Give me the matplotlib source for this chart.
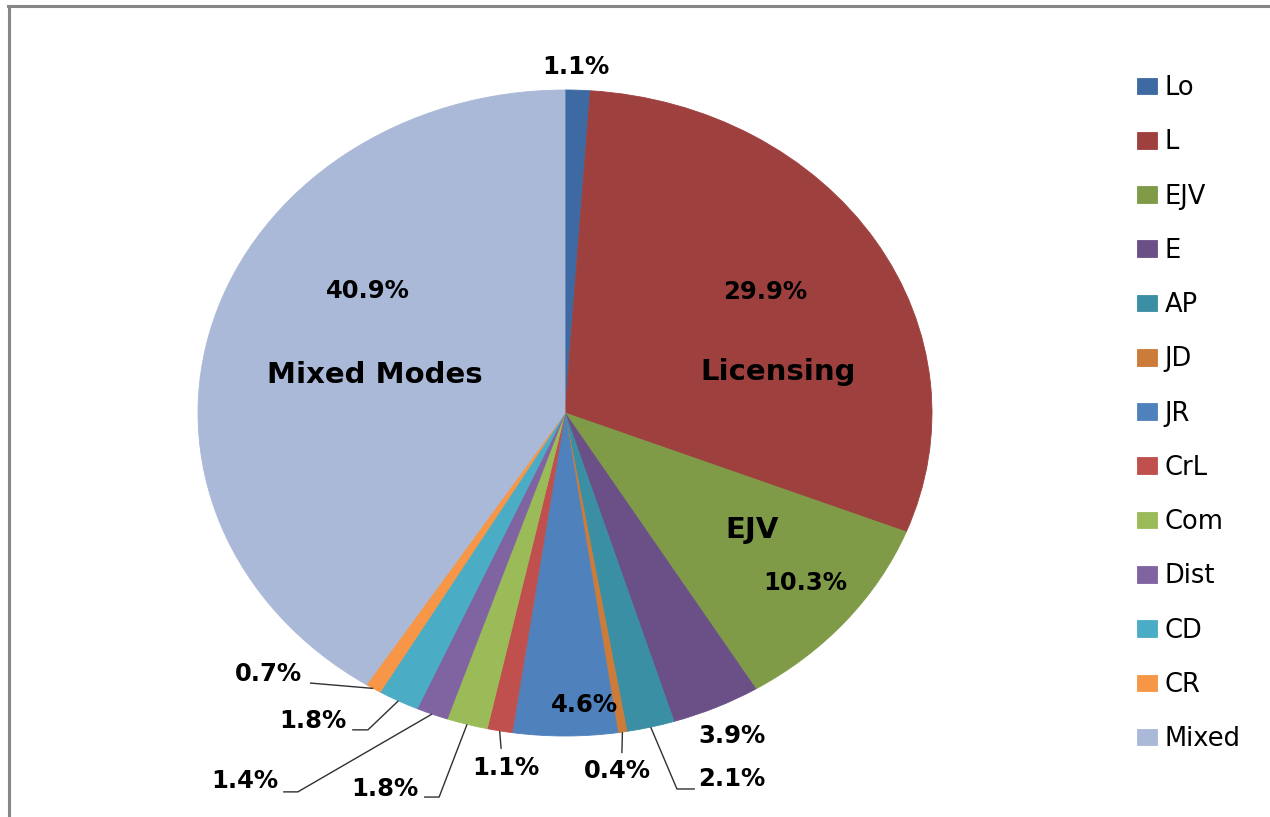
import numpy as np
import matplotlib
matplotlib.use("Agg")
import matplotlib.pyplot as plt
from matplotlib.lines import Line2D

# dados do gráfico (fatias em %)
nomes = ["Lo", "L", "EJV", "E", "AP", "JD", "JR", "CrL", "Com", "Dist", "CD", "CR", "Mixed"]
valores = [1.1, 29.9, 10.3, 3.9, 2.1, 0.4, 4.6, 1.1, 1.8, 1.4, 1.8, 0.7, 40.9]
cores = ["#3E6AA3", "#9E413E", "#7F9B48", "#6A5087", "#3A8FA5", "#CC7B38", "#4F81BD",
         "#C0504D", "#9BBB59", "#8064A2", "#4BACC6", "#F79646", "#AAB9D7"]

# rótulos de nome dentro das fatias grandes
nomes_internos = {"L": "Licensing", "EJV": "EJV", "Mixed": "Mixed Modes"}

# posição dos rótulos (x, y em coordenadas do pie, raio = 1)
pos_pct = {
    "Lo": (0.030, 1.071), "L": (0.545, 0.375), "EJV": (0.654, -0.526), "E": (0.455, -1.0),
    "AP": (0.455, -1.133), "JD": (0.144, -1.108), "JR": (0.054, -0.904), "CrL": (-0.161, -1.099),
    "Com": (-0.490, -1.164), "Dist": (-0.872, -1.139), "CD": (-0.687, -0.954),
    "CR": (-0.807, -0.808), "Mixed": (-0.536, 0.378),
}
pos_nome = {"L": (0.580, 0.128), "EJV": (0.510, -0.362), "Mixed": (-0.518, 0.118)}

# linhas de chamada: pontos depois da borda da fatia
chamadas = {
    "AP": [(0.305, -1.164), (0.354, -1.164)],
    "JD": [(0.155, -1.053)],
    "CrL": [(-0.174, -1.040)],
    "Com": [(-0.343, -1.189), (-0.384, -1.189)],
    "Dist": [(-0.728, -1.173), (-0.768, -1.173)],
    "CD": [(-0.537, -0.981), (-0.580, -0.981)],
    "CR": [(-0.695, -0.836)],
}

W, H = 1270, 817
fig = plt.figure(figsize=(W / 100, H / 100), dpi=100)

# eixo posicionado para o pie ficar elíptico como no original
cx, cy, rx, ry = 565, 413, 367, 323
ax = fig.add_axes([(cx - 1.25 * rx) / W, (H - cy - 1.25 * ry) / H, 2.5 * rx / W, 2.5 * ry / H])

fatias, _ = ax.pie(valores, colors=cores, startangle=90, counterclock=False,
                   wedgeprops=dict(linewidth=0.6))
for f, c in zip(fatias, cores):
    f.set_edgecolor(c)
ax.set_aspect("auto")
ax.set_xlim(-1.25, 1.25)
ax.set_ylim(-1.25, 1.25)
ax.axis("off")

fonte_pct = dict(fontsize=17.5, fontweight="bold", family="DejaVu Sans", color="black")

inicio = 0.0
for nome, v in zip(nomes, valores):
    meio = inicio + v / 2
    ang = np.deg2rad(90 - meio / 100 * 360)
    inicio += v
    x, y = pos_pct[nome]
    ax.text(x, y, f"{v:.1f}%", ha="center", va="center", **fonte_pct)
    if nome in nomes_internos:
        nx, ny = pos_nome[nome]
        ax.text(nx, ny, nomes_internos[nome], ha="center", va="center",
                fontsize=21, fontweight="bold", family="DejaVu Sans")
    if nome in chamadas:
        pts = [(np.cos(ang), np.sin(ang))] + chamadas[nome]
        xs, ys = zip(*pts)
        ax.plot(xs, ys, color="#303030", linewidth=1.0, solid_capstyle="butt")

# legenda
fig.legend(fatias, nomes, loc="upper left", bbox_to_anchor=(1137 / W, 1 - 75 / H),
           frameon=False, fontsize=18.5, handlelength=0.78, handleheight=0.62,
           handletextpad=0.3, labelspacing=1.1, borderpad=0, borderaxespad=0)

# moldura cinza (topo e esquerda)
fig.add_artist(Line2D([8 / W, 1], [1 - 6 / H, 1 - 6 / H], transform=fig.transFigure,
                      color="#878787", linewidth=2.2))
fig.add_artist(Line2D([8.5 / W, 8.5 / W], [0, 1 - 6 / H], transform=fig.transFigure,
                      color="#878787", linewidth=2.2))

fig.savefig("out.png", dpi=100)
